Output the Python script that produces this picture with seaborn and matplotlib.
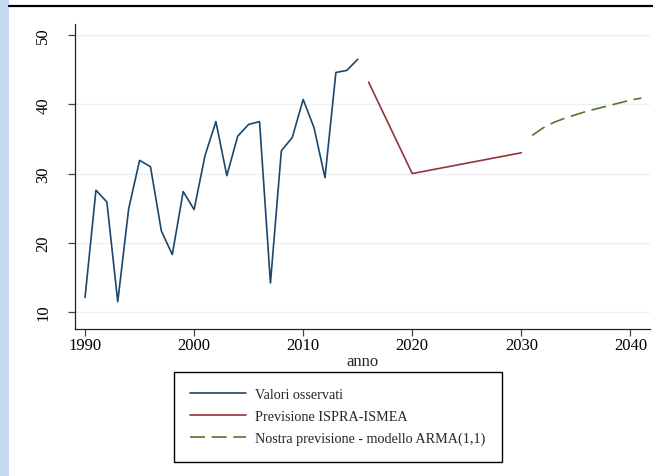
import matplotlib
matplotlib.use("Agg")
import matplotlib.pyplot as plt
from matplotlib.lines import Line2D
from matplotlib.patches import Rectangle
import numpy as np
import pandas as pd
import seaborn as sns

# Observed series 1990-2015
anni_oss = list(range(1990, 2016))
valori_oss = [12.1, 27.6, 25.9, 11.5, 24.9, 31.9, 31.0, 21.7, 18.3, 27.4,
              24.8, 32.6, 37.5, 29.7, 35.4, 37.1, 37.5, 14.2, 33.3, 35.2,
              40.7, 36.6, 29.4, 44.6, 44.9, 46.5]

# ISPRA-ISMEA forecast
anni_ispra = [2016, 2020, 2030]
valori_ispra = [43.2, 30.0, 33.0]

# ARMA(1,1) forecast 2031-2041
anni_arma = list(range(2031, 2042))
valori_arma = [35.5, 36.6, 37.4, 38.0, 38.5, 39.0, 39.4, 39.8, 40.2, 40.6, 40.9]

etichette = ["Valori osservati", "Previsione ISPRA-ISMEA",
             "Nostra previsione - modello ARMA(1,1)"]
xticks = [1990, 2000, 2010, 2020, 2030, 2040]
yticks = [10, 20, 30, 40, 50]

c_navy = "#1a476f"
c_maroon = "#90353b"
c_green = "#55752f"
c_grid = "#eaf2f3"

sns.set_theme(style="white")
plt.rcParams["font.family"] = ["Liberation Serif", "DejaVu Serif"]

W, H = 653, 477
fig = plt.figure(figsize=(W / 100, H / 100), dpi=100, facecolor="white")

# page decorations: side strip and top rule
fig.patches.append(Rectangle((0, 0), 9 / W, 1, transform=fig.transFigure,
                             facecolor="#c6d9f1", edgecolor="none", zorder=0))
fig.add_artist(Line2D([9 / W, 1], [1 - 6.5 / H, 1 - 6.5 / H],
                      transform=fig.transFigure, color="black", lw=1.6))

left, right, top, bottom = 75, 650, 25, 330
ax = fig.add_axes([left / W, 1 - bottom / H, (right - left) / W, (bottom - top) / H])
ax.set_facecolor("white")

df_oss = pd.DataFrame({"anno": anni_oss, "valore": valori_oss})
df_ispra = pd.DataFrame({"anno": anni_ispra, "valore": valori_ispra})
df_arma = pd.DataFrame({"anno": anni_arma, "valore": valori_arma})

sns.lineplot(data=df_oss, x="anno", y="valore", ax=ax, color=c_navy, lw=1.2)
sns.lineplot(data=df_ispra, x="anno", y="valore", ax=ax, color=c_maroon, lw=1.2)
sns.lineplot(data=df_arma, x="anno", y="valore", ax=ax, color=c_green, lw=1.2,
             linestyle=(0, (9, 4)))

ax.set_xlim(1989.08, 2041.8)
ax.set_ylim(7.55, 51.6)
ax.set_xticks(xticks)
ax.set_yticks(yticks)
ax.set_xticklabels([str(t) for t in xticks], fontsize=12)
ax.set_yticklabels([str(t) for t in yticks], fontsize=12, rotation=90, va="center")
for y in yticks:
    ax.axhline(y, color=c_grid, lw=1.0, zorder=0)

for s in ["top", "right"]:
    ax.spines[s].set_visible(False)
for s in ["left", "bottom"]:
    ax.spines[s].set_color("#222222")
    ax.spines[s].set_linewidth(0.9)
ax.tick_params(axis="both", direction="out", length=5, width=0.9, color="#444444",
               labelcolor="black", bottom=True, left=True)
ax.tick_params(axis="y", pad=12)
ax.tick_params(axis="x", pad=1.0)

ax.set_xlabel("anno", fontsize=12, labelpad=0)
ax.set_ylabel("")

handles = [Line2D([], [], color=c_navy, lw=1.2),
           Line2D([], [], color=c_maroon, lw=1.2),
           Line2D([], [], color=c_green, lw=1.2, linestyle=(0, (9, 4)))]
leg = ax.legend(handles, etichette, loc="upper left",
                bbox_to_anchor=(174 / W, 1 - 373 / H), bbox_transform=fig.transFigure,
                frameon=True, fancybox=False, framealpha=1, edgecolor="black",
                fontsize=10.2, handlelength=3.9, handletextpad=0.7,
                borderaxespad=0, borderpad=1.15, labelspacing=0.62)
leg.get_frame().set_linewidth(1.0)

fig.savefig("out.png", dpi=100, facecolor="white")
